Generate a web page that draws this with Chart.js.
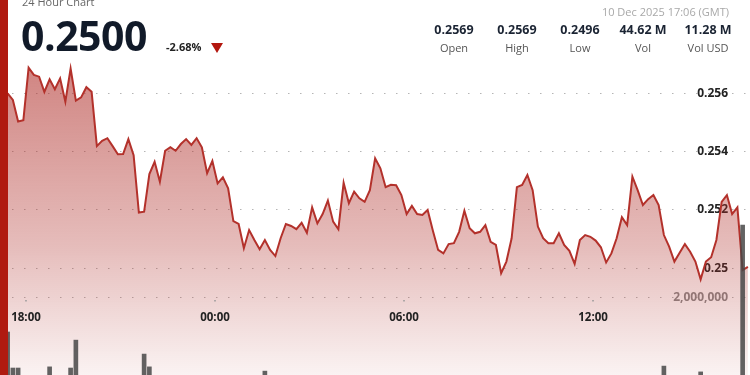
<!DOCTYPE html>
<html>
<head>
<meta charset="utf-8">
<script src="https://cdn.jsdelivr.net/npm/chart.js@4.4.1/dist/chart.umd.min.js"></script>
<style>
  html, body { margin: 0; padding: 0; background: #fff; }
  body { width: 750px; height: 375px; overflow: hidden; position: relative; font-family: "Open Sans", "Noto Sans", sans-serif; }
  #wrap { position: absolute; left: 0; top: 0; width: 750px; height: 375px; }
  #redbar { position: absolute; left: 0; top: 0; width: 8px; height: 375px; background: #b01a10; z-index: 3; }
  .hdr { position: absolute; z-index: 2; white-space: nowrap; }
  #title { left: 22px; top: -6px; font-size: 11px; color: #666; }
  #price { left: 21px; top: 10px; font-size: 41px; font-weight: 700; color: #111a29; letter-spacing: -0.5px; line-height: 50px; }
  #change { left: 166px; top: 39px; font-size: 11px; font-weight: 700; color: #222; }
  #tri { left: 211px; top: 43px; width: 0; height: 0; border-left: 6px solid transparent; border-right: 6px solid transparent; border-top: 10px solid #b3170f; }
  #stamp { right: 21px; top: 4px; font-size: 11px; color: #a8a8a8; }
  .stat { position: absolute; z-index: 2; width: 70px; text-align: center; top: 20px; }
  .stat b { display: block; font-size: 12.5px; font-weight: 700; color: #1b2433; line-height: 20px; }
  .stat span { display: block; font-size: 11px; color: #555; line-height: 15px; }
</style>
</head>
<body>
<div id="wrap"><canvas id="chart" width="750" height="375"></canvas></div>
<div id="redbar"></div>
<div class="hdr" id="title">24 Hour Chart</div>
<div class="hdr" id="price">0.2500</div>
<div class="hdr" id="change">-2.68%</div>
<div class="hdr" id="tri"></div>
<div class="hdr" id="stamp">10 Dec 2025 17:06 (GMT)</div>
<div id="stats"></div>
<script>
// price every 10 minutes, first sample at 17:25 (minutes counted from 18:00)
const START_MIN = -35;
const STEP_MIN = 10;
const priceValues = [
  0.25600, 0.25577, 0.25503, 0.25508, 0.25688, 0.25663, 0.25657, 0.25605, 0.25648, 0.25614,
  0.25651, 0.25571, 0.25685, 0.25575, 0.25586, 0.25621, 0.25605, 0.25419, 0.25437, 0.25446,
  0.25419, 0.25391, 0.25392, 0.25443, 0.25388, 0.25191, 0.25194, 0.25323, 0.25365, 0.25297,
  0.25403, 0.25415, 0.25403, 0.25426, 0.25443, 0.25423, 0.25446, 0.25415, 0.25326, 0.25368,
  0.25291, 0.25312, 0.25274, 0.25162, 0.25152, 0.25069, 0.25131, 0.25097, 0.25065, 0.25097,
  0.25063, 0.25042, 0.25103, 0.25152, 0.25145, 0.25134, 0.25156, 0.25122, 0.25209, 0.25154,
  0.25186, 0.25232, 0.25160, 0.25134, 0.25293, 0.25223, 0.25263, 0.25240, 0.25228, 0.25268,
  0.25377, 0.25343, 0.25278, 0.25286, 0.25285, 0.25251, 0.25186, 0.25214, 0.25186, 0.25183,
  0.25200, 0.25129, 0.25063, 0.25051, 0.25083, 0.25086, 0.25125, 0.25197, 0.25137, 0.25120,
  0.25125, 0.25148, 0.25091, 0.25080, 0.24983, 0.25023, 0.25103, 0.25278, 0.25286, 0.25320,
  0.25268, 0.25143, 0.25103, 0.25086, 0.25086, 0.25120, 0.25080, 0.25060, 0.25015, 0.25097,
  0.25114, 0.25108, 0.25095, 0.25072, 0.25020, 0.25051, 0.25103, 0.25175, 0.25148, 0.25314,
  0.25268, 0.25217, 0.25237, 0.25251, 0.25217, 0.25114, 0.25074, 0.25023, 0.25053, 0.25083,
  0.25057, 0.25023, 0.24962, 0.25023, 0.25038, 0.25097, 0.25228, 0.25251, 0.25186, 0.25209,
  0.24994, 0.25005
];

// volume only where a bar shows above the bottom edge (slot = index into the 10-min series)
const volumeSlots = [0, 1, 2, 8, 12, 13, 26, 27, 49, 125, 132, 140];
const volumeValues = [1110000, 180000, 180000, 210000, 180000, 900000, 540000, 210000, 100000, 230000, 80000, 3870000];

const priceTicks = [0.25, 0.252, 0.254, 0.256];
const volumeTicks = [2000000];
const timeTicks = [0, 360, 720, 1080];
const timeLabels = ['18:00', '00:00', '06:00', '12:00'];

const statValues = ['0.2569', '0.2569', '0.2496', '44.62 M', '11.28 M'];
const statNames = ['Open', 'High', 'Low', 'Vol', 'Vol USD'];
const statCenters = [454, 517, 580, 643, 708];

const statsEl = document.getElementById('stats');
statValues.forEach((v, i) => {
  const d = document.createElement('div');
  d.className = 'stat';
  d.style.left = (statCenters[i] - 35) + 'px';
  d.innerHTML = `<b>${v}</b><span>${statNames[i]}</span>`;
  statsEl.appendChild(d);
});

const pricePoints = priceValues.map((v, i) => ({ x: START_MIN + i * STEP_MIN, y: v }));
const volumePoints = volumeSlots.map((s, i) => ({ x: START_MIN + s * STEP_MIN, y: volumeValues[i] }));

function fillGradient(context) {
  const { ctx, chartArea } = context.chart;
  if (!chartArea) return 'rgba(175,45,40,0.3)';
  const g = ctx.createLinearGradient(0, chartArea.top, 0, chartArea.bottom);
  g.addColorStop(0, 'rgba(175,45,40,0.70)');
  g.addColorStop(0.2, 'rgba(175,45,40,0.57)');
  g.addColorStop(0.65, 'rgba(175,45,40,0.32)');
  g.addColorStop(1, 'rgba(175,45,40,0.06)');
  return g;
}

// axes must not eat any room: the plot fills the whole canvas
function noRoom(scale) {
  if (scale.isHorizontal()) scale.height = 0; else scale.width = 0;
  scale.paddingTop = 0; scale.paddingBottom = 0;
  scale.paddingLeft = 0; scale.paddingRight = 0;
}

// hour labels sit inside the plot, above the volume bars
const timeLabelPlugin = {
  id: 'timeLabels',
  afterDraw(chart) {
    const c = chart.ctx;
    const xs = chart.scales.x;
    c.save();
    c.font = 'bold 11.5px "Open Sans", sans-serif';
    c.textAlign = 'center';
    c.textBaseline = 'middle';
    timeTicks.forEach((t, i) => {
      const px = xs.getPixelForValue(t);
      c.fillStyle = '#222';
      c.fillText(timeLabels[i], px, 318);
      c.fillStyle = '#999';
      c.fillRect(px - 0.75, 300, 1.5, 1.5);
    });
    c.restore();
  }
};

new Chart(document.getElementById('chart'), {
  type: 'line',
  data: {
    datasets: [
      {
        type: 'line', label: 'Price', data: pricePoints, yAxisID: 'y',
        borderColor: '#b3312b', borderWidth: 2, pointRadius: 0, tension: 0,
        fill: 'start', backgroundColor: fillGradient, order: 1
      },
      {
        type: 'bar', label: 'Volume', data: volumePoints, yAxisID: 'vol',
        backgroundColor: 'rgba(72,72,72,0.85)', barThickness: 4, order: 0
      }
    ]
  },
  options: {
    responsive: false, animation: false, devicePixelRatio: 1,
    layout: { padding: 0 },
    plugins: { legend: { display: false }, tooltip: { enabled: false } },
    scales: {
      x: {
        type: 'linear', min: -49.5, max: 1379, offset: false,
        grid: { display: false, offset: false }, ticks: { display: false }, border: { display: false },
        afterFit: noRoom
      },
      y: {
        position: 'right', min: 0.246341, max: 0.259199,
        afterBuildTicks: s => { s.ticks = priceTicks.map(v => ({ value: v })); },
        afterFit: noRoom,
        grid: { color: '#b5b5b5', lineWidth: 1, drawTicks: false },
        border: { display: false, dash: [1.5, 10.5] },
        ticks: {
          mirror: true, padding: -22, color: '#222',
          font: { family: '"Open Sans", sans-serif', size: 12, weight: 'bold' },
          callback: v => String(parseFloat(v.toFixed(3)))
        }
      },
      vol: {
        position: 'right', min: 0, max: 9677000,
        afterBuildTicks: s => { s.ticks = volumeTicks.map(v => ({ value: v })); },
        afterFit: noRoom,
        grid: { color: '#b5b5b5', lineWidth: 1, drawTicks: false },
        border: { display: false, dash: [1.5, 10.5] },
        ticks: {
          mirror: true, padding: -22, color: '#8a8a8a',
          font: { family: '"Open Sans", sans-serif', size: 12, weight: 'bold' },
          callback: v => v.toLocaleString('en-US')
        }
      }
    }
  },
  plugins: [timeLabelPlugin]
});
</script>
</body>
</html>
